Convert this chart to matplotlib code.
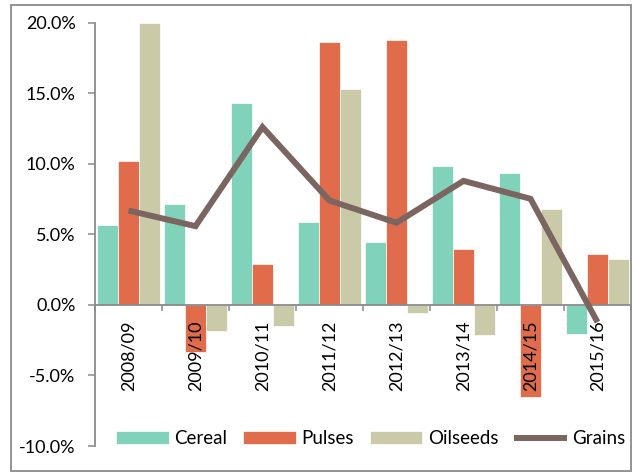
import matplotlib
matplotlib.use('Agg')
import matplotlib.pyplot as plt
from matplotlib.patches import Rectangle
from matplotlib.ticker import FuncFormatter, FixedLocator
import numpy as np

# Data (growth, %)
seasons = ['2008/09', '2009/10', '2010/11', '2011/12',
           '2012/13', '2013/14', '2014/15', '2015/16']
cereal = [5.65, 7.14, 14.3, 5.87, 4.45, 9.82, 9.36, -2.05]
pulses = [10.18, -3.37, 2.88, 18.6, 18.78, 3.94, -6.55, 3.63]
oilseeds = [20.0, -1.88, -1.51, 15.3, -0.59, -2.14, 6.83, 3.23]
grains = [6.69, 5.58, 12.6, 7.4, 5.82, 8.79, 7.52, -1.22]

c_cereal = '#80D2BA'
c_pulses = '#E06C4B'
c_oil = '#CBCAA8'
c_grains = '#7A6561'
grey = '#8A8A8A'

plt.rcParams['font.family'] = ['Lato', 'DejaVu Sans']
plt.rcParams['font.size'] = 13

fig = plt.figure(figsize=(6.36, 4.73), dpi=100)
ax = fig.add_axes([95 / 636, 1 - 446 / 473, (631 - 95) / 636, (446 - 22.7) / 473])

x = np.arange(len(seasons))
w = 0.31
b1 = ax.bar(x - w, cereal, w, color=c_cereal, edgecolor='white', linewidth=0.5, label='Cereal')
b2 = ax.bar(x, pulses, w, color=c_pulses, edgecolor='white', linewidth=0.5, label='Pulses')
b3 = ax.bar(x + w, oilseeds, w, color=c_oil, edgecolor='white', linewidth=0.5, label='Oilseeds')
l1, = ax.plot(x, grains, color=c_grains, linewidth=4.3, solid_capstyle='butt',
              solid_joinstyle='miter', label='Grains', zorder=3)

ax.set_xlim(-0.5, len(seasons) - 0.5)
ax.set_ylim(-10, 20)

# y axis
ax.yaxis.set_major_locator(FixedLocator(np.arange(-10, 21, 5)))
ax.yaxis.set_major_formatter(FuncFormatter(lambda v, p: f'{v:.1f}%'))
ax.tick_params(axis='y', length=5, width=1.1, color=grey, pad=9, labelsize=13)

# x axis sits at zero, ticks at group edges, labels at centres
ax.spines['bottom'].set_position(('data', 0))
ax.xaxis.set_major_locator(FixedLocator(np.arange(-0.5, len(seasons), 1.0)))
ax.xaxis.set_major_formatter(FuncFormatter(lambda v, p: ''))
ax.xaxis.set_minor_locator(FixedLocator(x))
ax.set_xticklabels(seasons, minor=True, rotation=90)
ax.tick_params(axis='x', which='major', length=4.5, width=1.1, color=grey, direction='out')
ax.tick_params(axis='x', which='minor', length=0, pad=11, labelsize=13)

for s in ['top', 'right']:
    ax.spines[s].set_visible(False)
for s in ['left', 'bottom']:
    ax.spines[s].set_color(grey)
    ax.spines[s].set_linewidth(1.3)

# outer chart frame
fig.patches.append(Rectangle((11 / 636, 1 - 471 / 473), (631 - 11) / 636, (471 - 5) / 473,
                             transform=fig.transFigure, fill=False,
                             edgecolor=grey, linewidth=1.3))

fig.legend([b1, b2, b3, l1], ['Cereal', 'Pulses', 'Oilseeds', 'Grains'],
           loc='center', bbox_to_anchor=(0.583, 1 - 438.6 / 473), ncol=4,
           frameon=False, fontsize=13.5, handlelength=2.8, handleheight=0.65,
           handletextpad=0.3, columnspacing=0.85, borderpad=0)

fig.savefig('out.png', dpi=100)
